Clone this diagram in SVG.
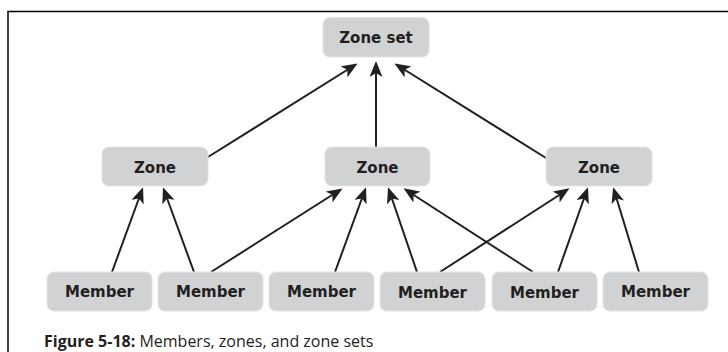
<svg xmlns="http://www.w3.org/2000/svg" width="728" height="352" viewBox="0 0 728 352">
<style>
.box{fill:#d1d2d4;stroke:#e2e3e4;stroke-width:1}
.lbl{font-family:"DejaVu Sans",Verdana,sans-serif;font-weight:bold;font-size:15px;fill:#231f20;text-anchor:middle}
.edge{stroke:#231f20;stroke-width:2;fill:none;marker-end:url(#ah)}
.cap{font-family:"Open Sans","Liberation Sans",sans-serif;font-size:16px;fill:#231f20}
</style>
<defs>
<marker id="ah" markerUnits="userSpaceOnUse" markerWidth="16" markerHeight="13" refX="13" refY="6.5" orient="auto">
<path d="M0,0 L16,6.5 L0,13 L4,6.5 z" fill="#231f20"/>
</marker>
</defs>
<rect width="728" height="352" fill="#fff"/>
<path d="M8,352 V11.5 H728" fill="none" stroke="#000" stroke-width="1.5"/>
<g id="connectors">
<line class="edge" x1="208" y1="157" x2="355" y2="65"/>
<line class="edge" x1="376" y1="147" x2="376" y2="64"/>
<line class="edge" x1="546" y1="158" x2="397" y2="65"/>
<line class="edge" x1="112" y1="272" x2="142" y2="190"/>
<line class="edge" x1="194" y1="272" x2="164" y2="190"/>
<line class="edge" x1="211" y1="272" x2="340" y2="190"/>
<line class="edge" x1="335" y1="272" x2="365" y2="190"/>
<line class="edge" x1="417" y1="272" x2="389" y2="190"/>
<line class="edge" x1="533" y1="272" x2="406" y2="190"/>
<line class="edge" x1="440" y1="272" x2="567" y2="190"/>
<line class="edge" x1="558" y1="272" x2="587" y2="190"/>
<line class="edge" x1="639" y1="272" x2="614" y2="190"/>
</g>
<g id="zoneset"><rect class="box" x="323" y="17.5" width="106" height="39.5" rx="7"/><text class="lbl" x="376" y="43">Zone set</text></g>
<g id="zone1"><rect class="box" x="102" y="147" width="106" height="39" rx="7"/><text class="lbl" x="155" y="172.5">Zone</text></g>
<g id="zone2"><rect class="box" x="325" y="147" width="105" height="39" rx="7"/><text class="lbl" x="377.5" y="172.5">Zone</text></g>
<g id="zone3"><rect class="box" x="546" y="147" width="106" height="39" rx="7"/><text class="lbl" x="599" y="172.5">Zone</text></g>
<g id="member1"><rect class="box" x="47" y="272" width="105" height="39" rx="7"/><text class="lbl" x="99.5" y="297">Member</text></g>
<g id="member2"><rect class="box" x="158" y="272" width="105" height="39" rx="7"/><text class="lbl" x="210.5" y="297">Member</text></g>
<g id="member3"><rect class="box" x="269" y="272" width="105" height="39" rx="7"/><text class="lbl" x="321.5" y="297">Member</text></g>
<g id="member4"><rect class="box" x="380" y="272" width="105" height="39" rx="7"/><text class="lbl" x="432.5" y="297.5">Member</text></g>
<g id="member5"><rect class="box" x="492" y="272" width="105" height="39" rx="7"/><text class="lbl" x="544.5" y="297.5">Member</text></g>
<g id="member6"><rect class="box" x="603" y="272" width="105" height="39" rx="7"/><text class="lbl" x="655.5" y="296.5">Member</text></g>
<text class="cap" x="44" y="346.5"><tspan font-weight="bold">Figure 5-18:</tspan> Members, zones, and zone sets</text>
</svg>
